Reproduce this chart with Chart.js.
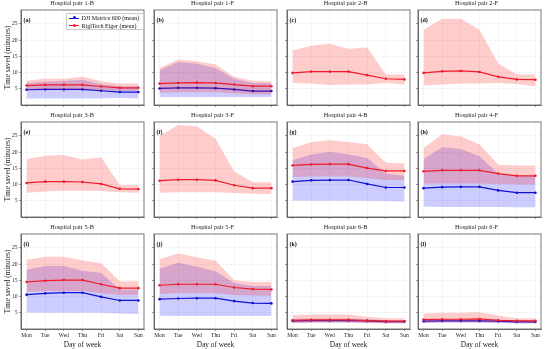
<!DOCTYPE html>
<html>
<head>
<meta charset="utf-8">
<script src="https://cdn.jsdelivr.net/npm/chart.js@4/dist/chart.umd.min.js"></script>
<style>
  body { margin: 0; background: #fff; }
  #wrap { position: relative; width: 550px; height: 349px; overflow: hidden; }
  #wrap canvas { position: absolute; }
  #legend {
    position: absolute; left: 66px; top: 12.5px; width: 78px; height: 17px;
    border: 0.8px solid #c8c8c8; background: rgba(255,255,255,0.85);
    font: 6px "Liberation Serif", serif; color: #111; box-sizing: border-box;
  }
  .row { position: absolute; left: 2px; height: 6px; line-height: 6px; white-space: nowrap; }
  .sym { position: absolute; left: 0; top: 2.5px; width: 10px; height: 1.2px; }
  .dot { position: absolute; left: 3.6px; top: -1.2px; width: 3px; height: 3px; border-radius: 50%; }
  .lab { position: absolute; left: 12.5px; top: 0; }
</style>
</head>
<body>
<div id="wrap">
  <div id="legend">
    <div class="row" style="top:1.5px"><span class="sym" style="background:#1010d0"><span class="dot" style="background:#1010d0"></span></span><span class="lab">DJI Matrice 600 (mean)</span></div>
    <div class="row" style="top:9px"><span class="sym" style="background:#ee1c2a"><span class="dot" style="background:#ee1c2a"></span></span><span class="lab">RigiTech Eiger (mean)</span></div>
  </div>
</div>
<script>
const days = ['Mon', 'Tue', 'Wed', 'Thu', 'Fri', 'Sat', 'Sun'];
const pairs = ['1-B', '1-F', '2-B', '2-F', '3-B', '3-F', '4-B', '4-F', '5-B', '5-F', '6-B', '6-F'];
const letters = ['a', 'b', 'c', 'd', 'e', 'f', 'g', 'h', 'i', 'j', 'k', 'l'];
const yTicks = [5, 10, 15, 20, 25];
const N = [null, null, null, null, null, null, null];

// DJI Matrice 600: mean and min/max band per hospital pair
const djiMean = [
  [4.7, 4.8, 4.8, 4.8, 4.4, 4.0, 4.0],
  [5.1, 5.3, 5.3, 5.2, 4.8, 4.3, 4.3],
  N, N, N, N,
  [10.9, 11.3, 11.4, 11.4, 10.2, 9.1, 9.1],
  [8.9, 9.2, 9.3, 9.3, 8.2, 7.5, 7.5],
  [10.6, 11.0, 11.2, 11.2, 9.9, 8.8, 8.8],
  [9.2, 9.4, 9.5, 9.5, 8.6, 8.0, 7.9],
  [2.5, 2.6, 2.6, 2.6, 2.5, 2.3, 2.3],
  [2.4, 2.5, 2.5, 2.5, 2.4, 2.2, 2.2]
];
const djiLow = [
  [2.0, 2.0, 2.0, 2.0, 2.0, 2.2, 2.0],
  [2.5, 2.5, 2.5, 2.5, 2.5, 2.5, 2.5],
  N, N, N, N,
  [5.1, 5.0, 5.0, 5.0, 5.0, 4.9, 4.8],
  [3.2, 3.1, 3.1, 3.1, 3.1, 3.0, 3.0],
  [5.1, 5.0, 5.0, 5.0, 5.0, 4.8, 4.6],
  [4.1, 4.0, 4.0, 4.0, 4.0, 4.0, 4.0],
  [1.9, 2.0, 2.0, 2.0, 1.9, 1.8, 1.8],
  [1.8, 1.9, 1.9, 1.9, 1.8, 1.7, 1.7]
];
const djiHigh = [
  [6.8, 7.2, 7.4, 7.8, 6.5, 5.8, 5.8],
  [10.7, 13.3, 12.7, 11.4, 8.1, 6.8, 6.8],
  N, N, N, N,
  [17.5, 19.3, 20.1, 19.3, 18.2, 13.4, 12.7],
  [17.9, 21.5, 21.0, 18.7, 13.4, 12.7, 12.7],
  [18.3, 19.4, 19.4, 18.0, 17.3, 12.2, 12.2],
  [18.6, 20.4, 19.2, 17.8, 14.2, 13.3, 13.3],
  [3.1, 3.2, 3.2, 3.2, 3.0, 2.8, 2.8],
  [3.0, 3.1, 3.1, 3.1, 2.9, 2.7, 2.7]
];

// RigiTech Eiger: mean and min/max band per hospital pair
const eigerMean = [
  [6.0, 6.2, 6.2, 6.2, 5.7, 5.3, 5.3],
  [6.6, 6.8, 6.9, 6.8, 6.3, 5.8, 5.8],
  [9.9, 10.3, 10.3, 10.3, 9.2, 8.1, 7.9],
  [9.9, 10.4, 10.5, 10.2, 8.7, 7.9, 7.8],
  [10.5, 10.9, 10.9, 10.8, 10.2, 8.7, 8.6],
  [11.2, 11.5, 11.5, 11.3, 9.8, 8.9, 8.9],
  [15.9, 16.2, 16.3, 16.3, 15.1, 14.2, 14.2],
  [14.1, 14.4, 14.4, 14.4, 13.4, 12.7, 12.7],
  [14.5, 14.9, 15.1, 15.1, 13.8, 12.6, 12.6],
  [13.5, 13.8, 13.8, 13.8, 12.8, 12.3, 12.2],
  [2.7, 2.8, 2.8, 2.8, 2.6, 2.4, 2.4],
  [2.9, 3.0, 3.0, 3.1, 2.7, 2.5, 2.5]
];
const eigerLow = [
  [4.7, 4.8, 4.8, 4.8, 4.5, 4.3, 4.3],
  [3.8, 3.9, 3.9, 3.9, 3.6, 3.3, 3.3],
  [6.8, 6.6, 6.2, 6.3, 6.3, 6.8, 6.3],
  [6.0, 6.3, 6.6, 6.6, 6.8, 6.5, 5.8],
  [7.5, 7.9, 8.1, 8.1, 8.0, 7.6, 7.5],
  [7.5, 7.6, 7.6, 7.6, 7.4, 7.2, 7.1],
  [12.3, 12.5, 12.5, 12.5, 12.0, 11.3, 11.3],
  [10.3, 10.3, 10.3, 10.3, 10.2, 10.0, 10.0],
  [11.5, 11.7, 11.7, 11.7, 11.0, 10.5, 10.5],
  [10.8, 11.0, 11.0, 11.0, 10.5, 10.3, 10.2],
  [1.8, 1.9, 1.9, 1.9, 1.8, 1.7, 1.7],
  [2.0, 2.1, 2.1, 2.1, 2.0, 1.9, 1.9]
];
const eigerHigh = [
  [7.5, 8.1, 8.1, 8.7, 7.3, 6.6, 6.6],
  [11.4, 14.0, 13.5, 12.5, 8.7, 7.5, 7.3],
  [16.8, 18.3, 18.9, 17.3, 17.8, 9.4, 9.4],
  [23.2, 26.6, 26.6, 23.2, 12.8, 9.4, 9.4],
  [17.9, 18.9, 19.1, 17.7, 18.4, 9.9, 9.9],
  [24.9, 28.4, 28.0, 24.1, 14.1, 10.7, 10.7],
  [21.3, 23.1, 23.7, 23.1, 22.4, 16.7, 16.5],
  [21.3, 25.5, 24.8, 22.4, 16.1, 15.9, 15.9],
  [21.3, 22.3, 22.3, 21.1, 20.3, 14.7, 14.7],
  [21.6, 23.3, 22.1, 21.1, 15.0, 14.5, 14.6],
  [4.3, 4.5, 4.5, 4.5, 3.8, 3.3, 3.3],
  [4.8, 5.0, 5.0, 5.2, 4.2, 3.3, 3.3]
];

const FONT = '"Liberation Serif", serif';
const colLeft = [21, 154, 287, 418];
const rowTop = [10, 122, 234];
const plotW = 123, plotH = 95, titleH = 14, padR = 9;

const framePlugin = {
  id: 'frame',
  afterDraw(chart, args, opts) {
    const a = chart.chartArea, ctx = chart.ctx;
    ctx.save();
    ctx.strokeStyle = '#555';
    ctx.lineWidth = 0.8;
    ctx.strokeRect(a.left, a.top, a.right - a.left, a.bottom - a.top);
    ctx.fillStyle = '#111';
    ctx.font = 'bold 6px ' + FONT;
    ctx.textBaseline = 'middle';
    ctx.fillText('(' + opts.letter + ')', a.left + 2.5, a.top + 10.5);
    ctx.restore();
  }
};

const wrap = document.getElementById('wrap');
const legendEl = document.getElementById('legend');

pairs.forEach((pair, p) => {
  const r = Math.floor(p / 4), c = p % 4;
  const yW = c === 0 ? 21 : 6;
  const xH = r === 2 ? 22 : 6;
  const cv = document.createElement('canvas');
  cv.width = yW + plotW + padR;
  cv.height = titleH + plotH + xH;
  cv.style.left = (colLeft[c] - yW) + 'px';
  cv.style.top = (rowTop[r] - titleH) + 'px';
  wrap.insertBefore(cv, legendEl);

  const pts = arr => arr.map((v, i) => ({ x: i, y: v }));
  const band = (color) => ({ pointRadius: 0, borderWidth: 0, borderColor: 'transparent', backgroundColor: color });

  new Chart(cv, {
    type: 'line',
    data: {
      datasets: [
        { label: 'RigiTech Eiger (mean)', data: pts(eigerMean[p]), borderColor: '#ee1c2a', backgroundColor: '#ee1c2a',
          borderWidth: 1.2, pointRadius: 1.3, pointBorderWidth: 0, fill: false, order: 0 },
        { label: 'DJI Matrice 600 (mean)', data: pts(djiMean[p]), borderColor: '#1010d0', backgroundColor: '#1010d0',
          borderWidth: 1.2, pointRadius: 1.3, pointBorderWidth: 0, fill: false, order: 2 },
        Object.assign({ label: 'eiger max', data: pts(eigerHigh[p]), fill: 3, order: 1 }, band('rgba(255,0,0,0.2)')),
        Object.assign({ label: 'eiger min', data: pts(eigerLow[p]), fill: false, order: 1 }, band('rgba(255,0,0,0.2)')),
        Object.assign({ label: 'dji max', data: pts(djiHigh[p]), fill: 5, order: 3 }, band('rgba(0,0,255,0.2)')),
        Object.assign({ label: 'dji min', data: pts(djiLow[p]), fill: false, order: 3 }, band('rgba(0,0,255,0.2)'))
      ]
    },
    options: {
      responsive: false,
      animation: false,
      devicePixelRatio: 1,
      layout: { padding: { left: 0, right: padR, top: 0, bottom: 0 } },
      elements: { line: { tension: 0 } },
      plugins: {
        legend: { display: false },
        tooltip: { enabled: false },
        title: {
          display: true, text: 'Hospital pair ' + pair, color: '#222',
          font: { family: FONT, size: 6.3, weight: 'normal', lineHeight: '10px' },
          padding: { top: 2, bottom: 2 }
        },
        frame: { letter: letters[p] }
      },
      scales: {
        x: {
          type: 'linear', min: -0.3, max: 6.3,
          afterBuildTicks: axis => { axis.ticks = days.map((d, i) => ({ value: i })); },
          afterFit: axis => { axis.height = xH; },
          ticks: {
            autoSkip: false, maxRotation: 0, padding: 1.5, color: '#222',
            font: { family: FONT, size: 5.6 },
            callback: v => (r === 2 ? days[v] : '')
          },
          grid: { color: '#e2e2e2', lineWidth: 0.6, tickLength: 2, tickColor: '#555', tickWidth: 0.6 },
          border: { display: true, color: '#555', width: 0.8, dash: [1.5, 1.2] },
          title: {
            display: r === 2, text: 'Day of week', color: '#222',
            font: { family: FONT, size: 7.3 }, padding: { top: 0, bottom: 1.5 }
          }
        },
        y: {
          min: 0, max: 29.3,
          afterBuildTicks: axis => { axis.ticks = yTicks.map(v => ({ value: v })); },
          afterFit: axis => { axis.width = yW; },
          ticks: {
            padding: 1.5, color: '#222',
            font: { family: FONT, size: 5.6 },
            callback: v => (c === 0 ? v : '')
          },
          grid: { color: '#e2e2e2', lineWidth: 0.6, tickLength: 2, tickColor: '#555', tickWidth: 0.6 },
          border: { display: true, color: '#555', width: 0.8, dash: [1.5, 1.2] },
          title: {
            display: c === 0, text: 'Time saved (minutes)', color: '#222',
            font: { family: FONT, size: 7.3 }, padding: { top: 3.5, bottom: 0 }
          }
        }
      }
    },
    plugins: [framePlugin]
  });
});
</script>
</body>
</html>
